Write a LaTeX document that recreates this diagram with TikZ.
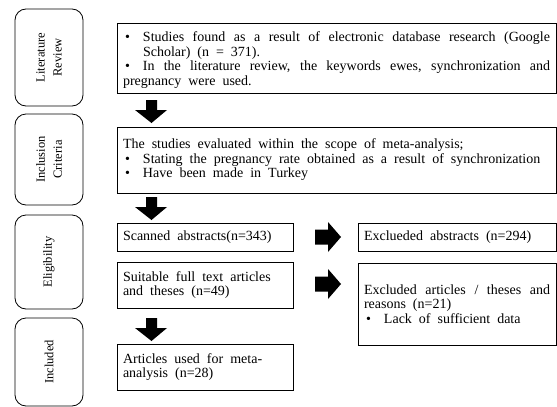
\documentclass[tikz,border=0pt]{standalone}
\usepackage{fontspec}
\setmainfont{Liberation Serif}
\newcommand{\bitem}[1]{\par\noindent\hangindent=20pt\makebox[20pt][l]{\hspace{2pt}\textbullet}#1}
\newcommand{\widespaces}{\spaceskip=0.5em plus 0.3em minus 0.12em\relax}
\tikzset{
  sidebox/.style={draw, line width=0.8pt, rounded corners=11pt, rotate=90, align=center, inner sep=0pt, minimum height=68pt, font=\fontsize{12.5}{17}\selectfont},
  mainbox/.style={draw, line width=0.8pt, align=justify, inner xsep=6pt, inner ysep=0pt, font=\fontsize{14}{14.5}\selectfont\widespaces}
}

\begin{document}
\begin{tikzpicture}[x=1pt, y=-1pt]
\useasboundingbox (0,0) rectangle (557,407);
% stage labels
\node[sidebox, minimum width=97pt] (litrev) at (49,57.5) {Literature\\Review};
\node[sidebox, minimum width=91pt] (inclcrit) at (49,159.5) {Inclusion\\Criteria};
\node[sidebox, minimum width=94pt] (elig) at (49,262) {Eligibility};
\node[sidebox, minimum width=88pt] (incl) at (49,362) {Included};
% boxes
\node[mainbox, minimum width=439pt, minimum height=70pt, text width=427pt] (search) at (336.5,58) {\bitem{Studies found as a result of electronic database research (Google\linebreak Scholar) (n = 371).}\bitem{In the literature review, the keywords ewes, synchronization and\linebreak pregnancy were used.}};
\node[mainbox, minimum width=439pt, minimum height=66pt, text width=427pt] (criteria) at (336.5,160) {The studies evaluated within the scope of meta-analysis;\bitem{Stating the pregnancy rate obtained as a result of synchronization}\bitem{Have been made in Turkey}};
\node[mainbox, minimum width=176pt, minimum height=28pt, text width=164pt] (scanned) at (205,237) {Scanned abstracts(n=343)};
\node[mainbox, minimum width=198pt, minimum height=28pt, text width=186pt] (exclabs) at (457,237) {Exclueded abstracts (n=294)};
\node[mainbox, minimum width=176pt, minimum height=46pt, text width=164pt] (suitable) at (205,285) {Suitable full text articles\newline and theses (n=49)};
\node[mainbox, minimum width=198pt, minimum height=82pt, text width=186pt] (exclart) at (457,304) {Excluded articles / theses and\linebreak reasons (n=21)\bitem{Lack of sufficient data}};
\node[mainbox, minimum width=176pt, minimum height=46pt, text width=164pt] (articles) at (205,367) {Articles used for meta-\newline analysis (n=28)};
% block arrows
\foreach \y in {100,197,318}
  \fill (146,\y) -- (157,\y) -- (157,\y+10) -- (167,\y+10) -- (151.5,\y+23) -- (135,\y+10) -- (146,\y+10) -- cycle;
\foreach \y in {237,284}
  \fill (315,\y-7.5) -- (328,\y-7.5) -- (328,\y-15) -- (341,\y) -- (328,\y+15) -- (328,\y+7.5) -- (315,\y+7.5) -- cycle;
\end{tikzpicture}
\end{document}
